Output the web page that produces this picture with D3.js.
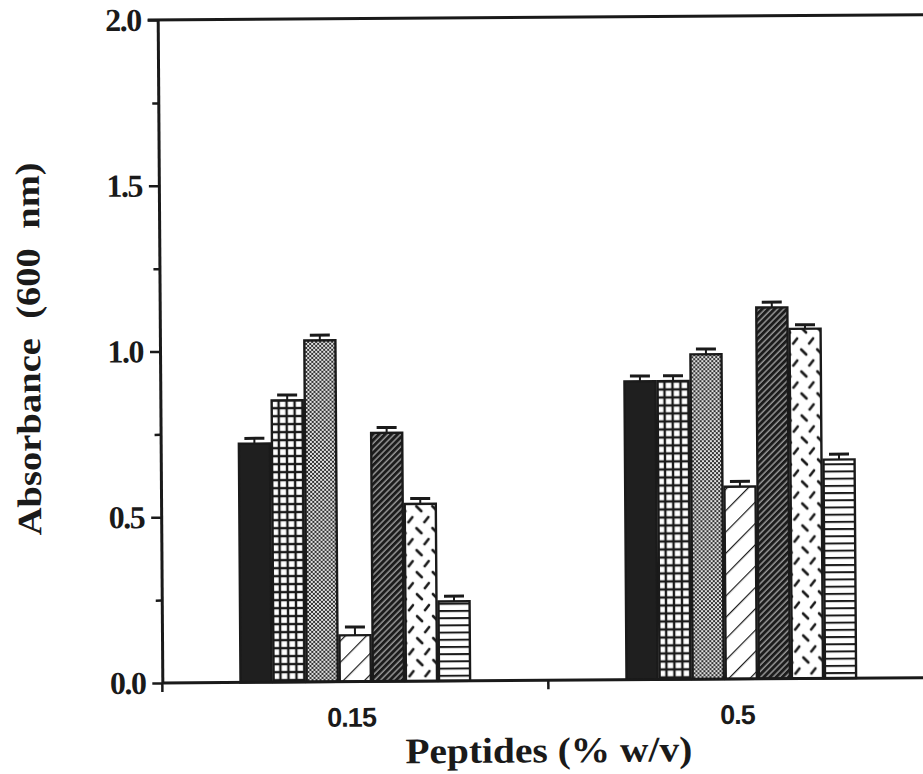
<!DOCTYPE html>
<html>
<head>
<meta charset="utf-8">
<script src="https://cdn.jsdelivr.net/npm/d3@7"></script>
<style>
  html, body { margin: 0; padding: 0; background: #fff; }
  svg { display: block; }
</style>
</head>
<body>
<svg id="chart" width="923" height="774"></svg>
<script>
// Peptide concentration groups along the x axis
const categories = ["0.15", "0.5"];
// Seven peptide treatments, one bar (fill pattern) each
const series = ["P1", "P2", "P3", "P4", "P5", "P6", "P7"];
// Absorbance at 600 nm for each treatment
const values015 = [0.72, 0.85, 1.03, 0.14, 0.75, 0.535, 0.24];
const values05  = [0.90, 0.90, 0.98, 0.58, 1.12, 1.055, 0.66];
// Standard errors
const errors015 = [0.016, 0.016, 0.016, 0.025, 0.016, 0.016, 0.016];
const errors05  = [0.016, 0.016, 0.016, 0.016, 0.016, 0.012, 0.016];
// Axis ticks
const yTicks = [0, 0.5, 1.0, 1.5, 2.0];
const yMinorTicks = [0.25, 0.75, 1.25, 1.75];
const yDomain = [0, 2];

const groups = [
  { cat: categories[0], values: values015, errors: errors015 },
  { cat: categories[1], values: values05, errors: errors05 }
];

const svg = d3.select("#chart");
const defs = svg.append("defs");

// ---- fill patterns, one per treatment ----
function pat(id, w, h, rot) {
  const p = defs.append("pattern")
    .attr("id", id)
    .attr("patternUnits", "userSpaceOnUse")
    .attr("width", w).attr("height", h);
  if (rot) p.attr("patternTransform", `rotate(${rot})`);
  return p;
}
// solid black
pat("p0", 4, 4).append("rect").attr("width", 4).attr("height", 4).attr("fill", "#1f1f1f");
// grid: white squares on black
{
  const p = pat("p1", 8, 8);
  p.append("rect").attr("width", 8).attr("height", 8).attr("fill", "#1a1a1a");
  p.append("rect").attr("x", 2.2).attr("y", 2.2).attr("width", 5.6).attr("height", 5.6).attr("fill", "#fff");
}
// fine stipple
{
  const p = pat("p2", 4, 4);
  p.append("rect").attr("width", 4).attr("height", 4).attr("fill", "#e0e0e0");
  p.append("rect").attr("width", 2).attr("height", 2).attr("fill", "#333");
  p.append("rect").attr("x", 2).attr("y", 2).attr("width", 2).attr("height", 2).attr("fill", "#333");
}
// wide diagonal lines
{
  const p = pat("p3", 15, 15, 45);
  p.append("rect").attr("width", 15).attr("height", 15).attr("fill", "#fff");
  p.append("line").attr("x1", 0).attr("y1", 0).attr("x2", 0).attr("y2", 15)
    .attr("stroke", "#1a1a1a").attr("stroke-width", 2.4);
}
// dense dark diagonal hatch
{
  const p = pat("p4", 4.4, 4.4, 45);
  p.append("rect").attr("width", 4.4).attr("height", 4.4).attr("fill", "#1c1c1c");
  p.append("line").attr("x1", 1).attr("y1", 0).attr("x2", 1).attr("y2", 4.4)
    .attr("stroke", "#b0b0b0").attr("stroke-width", 1.2);
}
// staggered dashes
{
  const p = pat("p5", 16, 22);
  p.append("rect").attr("width", 16).attr("height", 22).attr("fill", "#fff");
  p.append("line").attr("x1", 2).attr("y1", 2).attr("x2", 7).attr("y2", 7)
    .attr("stroke", "#1a1a1a").attr("stroke-width", 2.6).attr("stroke-linecap", "round");
  p.append("line").attr("x1", 10).attr("y1", 18).attr("x2", 14).attr("y2", 13)
    .attr("stroke", "#1a1a1a").attr("stroke-width", 2.6).attr("stroke-linecap", "round");
}
// horizontal lines
{
  const p = pat("p6", 8, 7.2);
  p.append("rect").attr("width", 8).attr("height", 7.2).attr("fill", "#fff");
  p.append("line").attr("x1", 0).attr("y1", 1).attr("x2", 8).attr("y2", 1)
    .attr("stroke", "#1a1a1a").attr("stroke-width", 2);
}
const fills = ["p0", "p1", "p2", "p3", "p4", "p5", "p6"];

// ---- scales ----
const y = d3.scaleLinear().domain(yDomain).range([683, 20]);
const x = d3.scaleBand().domain(categories).range([160, 932])
  .paddingInner(0.4).paddingOuter(0.2);
const xs = d3.scaleBand().domain(series).range([0, x.bandwidth()]);

const root = svg.append("g").attr("transform", "rotate(-0.4,160,350)");

// ---- bars ----
const gGroups = root.selectAll("g.grp").data(groups).join("g")
  .attr("class", "grp")
  .attr("transform", d => `translate(${x(d.cat)},0)`);

gGroups.each(function (g) {
  const sel = d3.select(this);
  const rows = series.map((s, i) => ({ s, i, v: g.values[i], e: g.errors[i] }));
  // error bars
  sel.selectAll("line.stem").data(rows).join("line")
    .attr("x1", d => xs(d.s) + xs.bandwidth() / 2)
    .attr("x2", d => xs(d.s) + xs.bandwidth() / 2)
    .attr("y1", d => y(d.v)).attr("y2", d => y(d.v + d.e))
    .attr("stroke", "#1a1a1a").attr("stroke-width", 2);
  sel.selectAll("line.cap").data(rows).join("line")
    .attr("x1", d => xs(d.s) + xs.bandwidth() / 2 - 10)
    .attr("x2", d => xs(d.s) + xs.bandwidth() / 2 + 10)
    .attr("y1", d => y(d.v + d.e)).attr("y2", d => y(d.v + d.e))
    .attr("stroke", "#1a1a1a").attr("stroke-width", 3);
  sel.selectAll("rect.bar").data(rows).join("rect")
    .attr("class", "bar")
    .attr("x", d => xs(d.s) + 1)
    .attr("width", xs.bandwidth() - 2)
    .attr("y", d => y(d.v))
    .attr("height", d => y(0) - y(d.v))
    .attr("fill", d => `url(#${fills[d.i]})`)
    .attr("stroke", "#1a1a1a").attr("stroke-width", 2.4);
});

// ---- axes ----
const serif = "'Liberation Serif','Times New Roman',serif";
const sans = "'Liberation Sans',Arial,sans-serif";

const yAxis = root.append("g").attr("transform", "translate(160,0)")
  .call(d3.axisLeft(y).tickValues(yTicks).tickFormat(d3.format(".1f"))
    .tickSize(10).tickSizeOuter(0).tickPadding(7));
yAxis.select(".domain").attr("stroke", "#1a1a1a").attr("stroke-width", 3);
yAxis.selectAll(".tick line").attr("stroke", "#1a1a1a").attr("stroke-width", 2.5);
yAxis.selectAll(".tick text")
  .attr("font-family", serif).attr("font-weight", "bold")
  .attr("font-size", 32).attr("letter-spacing", -1.5).attr("fill", "#1a1a1a");

const yMinor = root.append("g").attr("transform", "translate(160,0)")
  .call(d3.axisLeft(y).tickValues(yMinorTicks).tickFormat("").tickSize(6).tickSizeOuter(0));
yMinor.select(".domain").remove();
yMinor.selectAll(".tick line").attr("stroke", "#1a1a1a").attr("stroke-width", 2.5);

// top frame line
root.append("line")
  .attr("x1", 150).attr("x2", 940)
  .attr("y1", y(yDomain[1])).attr("y2", y(yDomain[1]))
  .attr("stroke", "#1a1a1a").attr("stroke-width", 3);

// x axis line with ticks at group boundaries
const xAxis = root.append("g").attr("transform", `translate(0,${y(0)})`)
  .call(d3.axisBottom(x).tickSize(0).tickFormat(""));
xAxis.select(".domain").attr("d", `M${x.range()[0]},0H${x.range()[1] + 10}`)
  .attr("stroke", "#1a1a1a").attr("stroke-width", 3);
const bounds = [x.range()[0], x.range()[0] + x.step()];
xAxis.selectAll("line.bound").data(bounds).join("line")
  .attr("x1", d => d).attr("x2", d => d).attr("y1", 0).attr("y2", 9)
  .attr("stroke", "#1a1a1a").attr("stroke-width", 2.5);

// category labels
root.selectAll("text.cat").data(categories).join("text")
  .attr("class", "cat")
  .attr("x", d => x(d) + x.bandwidth() / 2 - 4)
  .attr("y", 728)
  .attr("text-anchor", "middle")
  .attr("font-family", sans).attr("font-weight", "bold").attr("font-size", 27)
  .attr("letter-spacing", -1)
  .attr("fill", "#1a1a1a")
  .text(d => d);

// axis titles
root.append("text")
  .attr("x", 546).attr("y", 765)
  .attr("text-anchor", "middle")
  .attr("font-family", serif).attr("font-weight", "bold").attr("font-size", 36)
  .attr("textLength", 287).attr("lengthAdjust", "spacingAndGlyphs")
  .attr("fill", "#1a1a1a")
  .text("Peptides (% w/v)");

root.append("text")
  .attr("transform", "translate(40,348) rotate(-90)")
  .attr("text-anchor", "middle")
  .attr("font-family", serif).attr("font-weight", "bold").attr("font-size", 34)
  .attr("textLength", 373).attr("lengthAdjust", "spacingAndGlyphs")
  .attr("fill", "#1a1a1a")
  .style("white-space", "pre")
  .text("Absorbance  (600  nm)");
</script>
</body>
</html>
